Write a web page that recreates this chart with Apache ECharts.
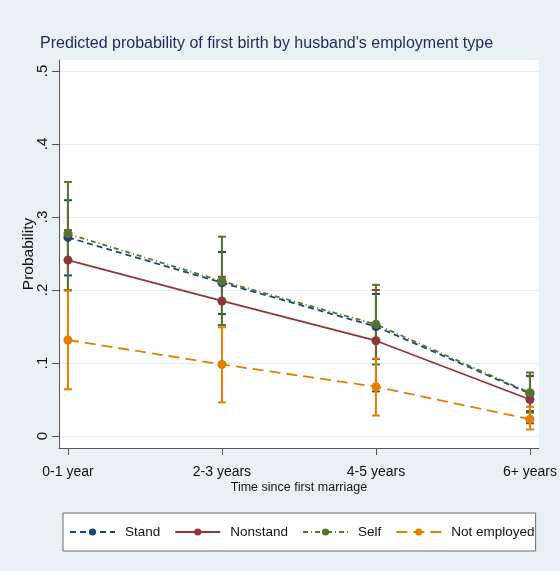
<!DOCTYPE html>
<html>
<head>
<meta charset="utf-8">
<script src="https://cdn.jsdelivr.net/npm/echarts@6/dist/echarts.min.js"></script>
<style>
  html, body { margin: 0; padding: 0; background: #ffffff; }
  #chart { width: 560px; height: 571px; }
</style>
</head>
<body>
<div id="chart"></div>
<script>
// Categories on the x axis
const categories = ['0-1 year', '2-3 years', '4-5 years', '6+ years'];

// Predicted probabilities per employment type
const standVals    = [0.272, 0.210, 0.150, 0.058];
const nonstandVals = [0.241, 0.185, 0.1305, 0.050];
const selfVals     = [0.277, 0.212, 0.153, 0.0593];
const notEmpVals   = [0.1315, 0.098, 0.0676, 0.023];

// Confidence interval bounds
const standLow     = [0.220, 0.167, 0.1055, 0.034];
const standHigh    = [0.323, 0.252, 0.1945, 0.082];
const nonstandLow  = [0.200, 0.152, 0.061, 0.0174];
const nonstandHigh = [0.282, 0.218, 0.200, 0.0826];
const selfLow      = [0.200, 0.152, 0.098, 0.032];
const selfHigh     = [0.348, 0.273, 0.207, 0.087];
const notEmpLow    = [0.064, 0.046, 0.028, 0.009];
const notEmpHigh   = [0.199, 0.149, 0.106, 0.040];

// Axis ticks
const yTicks = [0, 0.1, 0.2, 0.3, 0.4, 0.5];
const yTickLabels = ['0', '.1', '.2', '.3', '.4', '.5'];
const xTicks = [0, 1, 2, 3];

const FONT = '"Liberation Sans", Arial, sans-serif';

const groups = [
  { name: 'Stand',        color: '#1a476f', vals: standVals,    lo: standLow,    hi: standHigh,    dash: [6, 4] },
  { name: 'Nonstand',     color: '#90353b', vals: nonstandVals, lo: nonstandLow, hi: nonstandHigh, dash: 'solid' },
  { name: 'Self',         color: '#55752f', vals: selfVals,     lo: selfLow,     hi: selfHigh,     dash: [5, 3, 1, 3] },
  { name: 'Not employed', color: '#e37e00', vals: notEmpVals,   lo: notEmpLow,   hi: notEmpHigh,   dash: [11, 6] }
];

function errorBarSeries(g) {
  return {
    type: 'custom',
    name: g.name + ' CI',
    z: 2,
    silent: true,
    encode: { x: 0, y: [1, 2] },
    data: xTicks.map((x, i) => [x, g.lo[i], g.hi[i]]),
    renderItem: function (params, api) {
      const x = api.value(0);
      const top = api.coord([x, api.value(2)]);
      const bot = api.coord([x, api.value(1)]);
      const w = 4;
      const st = { stroke: g.color, lineWidth: 2 };
      return {
        type: 'group',
        children: [
          { type: 'line', shape: { x1: top[0], y1: top[1], x2: bot[0], y2: bot[1] }, style: st },
          { type: 'line', shape: { x1: top[0] - w, y1: top[1], x2: top[0] + w, y2: top[1] }, style: st },
          { type: 'line', shape: { x1: bot[0] - w, y1: bot[1], x2: bot[0] + w, y2: bot[1] }, style: st }
        ]
      };
    }
  };
}

function lineSeries(g) {
  return {
    type: 'line',
    name: g.name,
    z: 3,
    data: xTicks.map((x, i) => [x, g.vals[i]]),
    symbol: 'circle',
    symbolSize: 9,
    itemStyle: { color: g.color },
    lineStyle: { color: g.color, width: 1.8, type: g.dash },
    animation: false
  };
}

const chart = echarts.init(document.getElementById('chart'), null, { renderer: 'canvas' });

chart.setOption({
  backgroundColor: '#eaf1f4',
  animation: false,
  title: {
    text: "Predicted probability of first birth by husband's employment type",
    left: 40,
    top: 36,
    padding: 0,
    textStyle: { fontFamily: FONT, fontSize: 16, fontWeight: 'normal', color: '#1c2b5a' }
  },
  grid: { left: 59, right: 18, top: 60, bottom: 123, show: true, backgroundColor: '#ffffff', borderWidth: 0 },
  xAxis: {
    type: 'value',
    min: -0.058,
    max: 3.058,
    name: 'Time since first marriage',
    nameLocation: 'middle',
    nameGap: 33,
    nameMoveOverlap: false,
    nameTextStyle: { fontFamily: FONT, fontSize: 12.5, color: '#111' },
    axisLine: { show: true, onZero: false, lineStyle: { color: '#555', width: 1 } },
    axisTick: { show: true, length: 7, customValues: xTicks, lineStyle: { color: '#555' } },
    axisLabel: {
      customValues: xTicks,
      margin: 17,
      fontFamily: FONT, fontSize: 14, color: '#111',
      formatter: v => categories[Math.round(v)]
    },
    splitLine: { show: false }
  },
  yAxis: {
    type: 'value',
    min: -0.0164,
    max: 0.515,
    name: 'Probability',
    nameLocation: 'middle',
    nameRotate: 90,
    nameGap: 22,
    nameMoveOverlap: false,
    nameTextStyle: { fontFamily: FONT, fontSize: 15.5, color: '#111' },
    axisLine: { show: true, onZero: false, lineStyle: { color: '#555', width: 1 } },
    axisTick: { show: true, length: 7, customValues: yTicks, lineStyle: { color: '#555' } },
    axisLabel: {
      customValues: yTicks,
      rotate: 90,
      margin: 9,
      fontFamily: FONT, fontSize: 15, color: '#111',
      formatter: v => yTickLabels[yTicks.findIndex(t => Math.abs(t - v) < 1e-9)]
    },
    splitLine: { show: true, lineStyle: { color: '#e2ebf1', width: 1 } }
  },
  legend: {
    data: groups.map(g => g.name),
    left: 63,
    top: 513,
    padding: [12, 1, 12, 6],
    itemGap: 14,
    itemWidth: 45,
    itemHeight: 9,
    backgroundColor: '#ffffff',
    borderColor: '#6a6a6a',
    borderWidth: 1,
    borderRadius: 0,
    textStyle: { fontFamily: FONT, fontSize: 13.5, color: '#111', padding: [0, 0, 0, 5] }
  },
  series: groups.map(errorBarSeries).concat(groups.map(lineSeries))
});
</script>
</body>
</html>
